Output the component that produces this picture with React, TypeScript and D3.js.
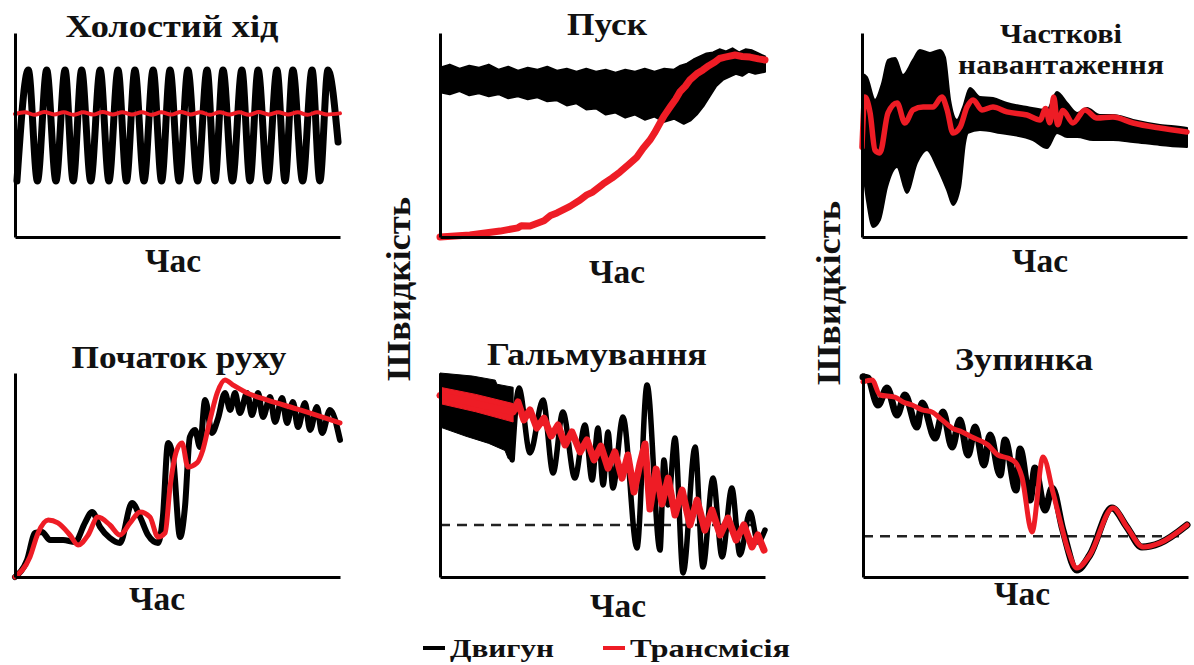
import React, { useEffect, useRef } from "react";
import * as d3 from "d3";

// ---- data: time and speed in relative units (0..100) ----//

const panelTitles = [
  ["Холостий хід"],
  ["Пуск"],
  ["Часткові", "навантаження"],
  ["Початок руху"],
  ["Гальмування"],
  ["Зупинка"],
];
const xLabel = "Час";
const yLabel = "Швидкість";
const legendLabels = ["Двигун", "Трансмісія"];

// Холостий хід
const idleEngine = [
  [0.6, 27.5], [4.1, 81.9], [6.9, 27.5], [9.75, 81.9], [12.6, 27.5], [15.4, 81.9],
  [17.9, 27.5], [20.5, 81.9], [23.3, 27.5], [26.2, 81.9], [28.9, 27.5], [31.7, 81.9],
  [34.3, 27.5], [36.9, 81.9], [39.7, 27.5], [42.5, 81.9], [45.1, 27.5], [47.7, 81.9],
  [50.5, 27.5], [53.2, 81.9], [56.2, 27.5], [59.1, 81.9], [61.5, 27.5], [64, 81.9],
  [66.9, 27.5], [69.8, 81.9], [72.3, 27.5], [74.8, 81.9], [77.7, 27.5], [80.6, 81.9],
  [83.1, 27.5], [85.5, 81.9], [88.5, 27.5], [91.4, 81.9], [93.8, 27.5], [96.3, 81.9],
  [99.4, 46.6],
];
const idleTransmission = [
  [0, 60.3], [3, 61.2], [6, 59.9], [9, 61.3], [12, 60.1], [15, 61.2], [18, 59.9],
  [21, 61.1], [24, 60], [27, 61.3], [30, 60.1], [33, 61.2], [36, 60], [39, 61.2],
  [42, 59.9], [45, 61.1], [48, 60], [51, 61.3], [54, 60.1], [57, 61.2], [60, 59.9],
  [63, 61.2], [66, 60], [69, 61.1], [72, 59.9], [75, 61.3], [78, 60.1], [81, 61.2],
  [84, 60], [87, 61.1], [90, 59.9], [93, 61.2], [96, 60.1], [100, 60.6],
];

// Пуск
const startEngineUpper = [
  [0, 83], [3, 84.5], [6, 82.5], [9, 84], [12, 83], [15, 84.5], [18, 82], [21, 83.5],
  [24, 81.5], [27, 83], [30, 82], [33, 83.5], [36, 81.5], [39, 82.5], [42, 81], [45, 82.5],
  [48, 81], [51, 82], [54, 80.5], [57, 82], [60, 81], [63, 82.5], [66, 81], [69, 82.5],
  [72, 82], [74, 84], [76, 85], [78, 87], [80, 88.5], [82, 90], [84, 90.5], [86, 92],
  [88, 91], [90, 92.5], [92, 90.5], [94, 92], [96, 91.5], [98, 90], [100, 88.5],
];
const startEngineLower = [
  [0, 71], [3, 70], [6, 71.5], [9, 69.5], [12, 70.5], [15, 69], [18, 70], [21, 68],
  [24, 69], [27, 67.5], [30, 68.5], [33, 66.5], [36, 67], [39, 64.5], [42, 65.5], [45, 62.5],
  [48, 63], [51, 60], [54, 61], [57, 58.5], [60, 60], [63, 57.5], [66, 59], [69, 56.5],
  [72, 58], [75, 55.5], [77, 57], [79, 60], [81, 64], [83, 69], [85, 74], [87, 77],
  [89, 78.5], [91, 80], [93, 79], [95, 81], [97, 80], [100, 81],
];
const startTransmission = [
  [0, 0], [9.2, 1], [18.5, 2.9], [24, 4.5], [25, 5.5], [27.7, 5.4], [32, 8], [34, 10.5],
  [36, 11.8], [40, 15], [43.1, 18.1], [45, 20.5], [47, 22], [50.2, 26], [53, 29],
  [55.4, 31.9], [58, 35.5], [60.6, 39.2], [62.5, 43.5], [64.6, 47.5], [66, 51],
  [67.7, 55.9], [69, 59.5], [70.8, 63.7], [72.5, 67.5], [73.8, 71.1], [75.5, 74],
  [76.9, 77], [79, 80], [80.9, 81.9], [82.7, 84], [84.6, 85.8], [86, 87.5], [87.7, 88.2],
  [90.8, 89.2], [93, 88.5], [95.4, 88.2], [98, 87.3], [100, 86.8],
];

// Часткові навантаження
const partialEngineUpper = [
  [0, 80], [1.5, 78.4], [4, 67.2], [6.2, 75.5], [8, 86.8], [10.2, 87.7], [12.6, 79.4],
  [15.7, 86.8], [17.8, 91.7], [20.9, 90.2], [24, 91.7], [25.5, 88.2], [27.1, 67.2],
  [29.2, 57.4], [31.1, 63.7], [33.2, 73], [36.3, 68.6], [40.3, 68.1], [44.6, 65.7],
  [50.8, 63.7], [56.9, 62.3], [60, 71.1], [63.1, 65.7], [66.2, 60.8], [69.2, 63.2],
  [73.2, 59.8], [77.2, 59.8], [83.4, 57.4], [91.7, 54.9], [100, 53.4],
];
const partialEngineLower = [
  [0, 37.7], [1.5, 18.1], [3.4, 4.9], [5.5, 8.3], [7.7, 24.5], [10.8, 34.3], [13.8, 21.6],
  [16.9, 36.3], [20, 42.6], [23.1, 34.3], [26.2, 23], [28, 15.7], [30.2, 24.5], [31.7, 46.1],
  [32.6, 51], [36.3, 52.5], [42.5, 51], [52.6, 47.5], [56.9, 43.6], [60, 51], [63.1, 49],
  [66.2, 49], [71.1, 47.5], [77.2, 47.5], [83.4, 46.6], [91.7, 45.1], [100, 44.1],
];
const partialTransmission = [
  [0, 44.1], [0.9, 68.6], [2.5, 60.8], [4, 42.6], [5.5, 41.2], [8, 60.8], [10.8, 65.7],
  [13.2, 55.9], [15.7, 62.3], [18.8, 63.7], [21.8, 63.7], [24.6, 68.6], [26.2, 62.3],
  [28, 51], [30.2, 53.9], [32.3, 63.7], [34.2, 67.2], [36.9, 62.3], [40.3, 63.7],
  [44.6, 61.3], [50.8, 59.8], [54.8, 57.4], [56.5, 63], [57.8, 56], [59, 68.6], [60.2, 55],
  [61.8, 62], [64.9, 55.9], [68.6, 62.3], [72.3, 58.3], [77.2, 58.8], [83.4, 55.9],
  [91.7, 53.4], [100, 51.5],
];

// Початок руху
const moveEngine = [
  [0, 0], [3.7, 8.3], [6.2, 21.6], [8.3, 22.1], [10.8, 18.1], [14.8, 18.1], [18.5, 17.2],
  [21.5, 26.5], [23.7, 31.9], [26.2, 24.5], [29.2, 19.1], [32.3, 16.7], [36, 36.3],
  [38.5, 29.4], [40.9, 20.6], [44, 16.7], [45.5, 29.4], [47.1, 65.7], [48.6, 58.8],
  [50.8, 19.6], [52.3, 34.3], [53.8, 68.6], [55.4, 72.1], [56.9, 63.7], [58.5, 86.8],
  [60.6, 70.6], [62.5, 77.9], [64.6, 90.2], [66.2, 81.9], [67.7, 90.2], [69.2, 80.4],
  [71.4, 90.2], [72.9, 79.4], [74.8, 90.2], [76.3, 78.4], [78.5, 88.2], [80, 76],
  [82.2, 87.7], [83.7, 75.5], [85.5, 85.8], [87.1, 73.5], [89.2, 85.3], [90.8, 72.1],
  [92.9, 83.3], [94.5, 70.6], [96.9, 81.9], [100, 67.2],
];
const moveTransmission = [
  [0, 0], [4.6, 9.8], [7.1, 21.6], [10.2, 27.9], [13.2, 26.5], [16.9, 20.6], [19.4, 15.7],
  [22.5, 20.6], [25.5, 29.4], [29.2, 25.5], [32.3, 20.6], [35.4, 26.5], [38.5, 31.9],
  [41.5, 29.4], [44, 19.6], [46.2, 21.6], [47.7, 44.1], [49.8, 62.3], [51.4, 65.7],
  [53.2, 53.9], [56, 55.9], [57.8, 62.3], [60, 77], [62.2, 90.2], [64.6, 96.6],
  [67.1, 94.1], [71.4, 90.2], [77.5, 86.8], [87.7, 81.9], [100, 75.5],
];

// Гальмування
const brakeEngineBandUpper = [[0, 100], [10, 98.5], [17, 96.5], [17.5, 94.5], [22.5, 93]];
const brakeEngineBandLower = [[0, 73.5], [8, 69], [15, 65.5], [20, 62], [21, 58], [22.5, 57]];
const brakeEngine = [
  [22.2, 57.4], [24.3, 92.6], [27.7, 60.8], [31.7, 86.8], [34.8, 51], [37.8, 80.9],
  [41.5, 48.5], [44.6, 74.5], [46.8, 47.5], [48.6, 73], [50.2, 45.1], [51.7, 71.1],
  [53.2, 43.6], [56.3, 78.4], [60.6, 14.2], [63.7, 94.1], [67.7, 13.2], [68.9, 57.4],
  [70.2, 35.3], [72.3, 68.1], [74.8, 2], [78.5, 63.7], [80.9, 4.9], [84, 48.5],
  [86.8, 9.8], [89.8, 43.6], [92.3, 10.8], [95.4, 31.9], [97.8, 17.2], [100, 23],
];
const brakeTransBandUpper = [[0, 93], [11, 89.5], [22.5, 85]];
const brakeTransBandLower = [[0, 85], [11, 81], [22.5, 76]];
const brakeTransmission = [
  [0, 89], [11, 85], [22.5, 80.9], [24, 85.8], [25.8, 77], [27.7, 81.9], [29.8, 73],
  [32, 77.9], [34.2, 69.1], [36.3, 74.5], [38.5, 64.7], [40.6, 71.1], [43.1, 61.3],
  [45.2, 67.2], [47.4, 57.4], [49.5, 64.2], [51.7, 53.4], [53.8, 61.3], [56, 48.5],
  [57.8, 59.8], [59.7, 41.7], [61.5, 55.4], [63.1, 65.2], [64.6, 33.3], [66.5, 52.9],
  [68.3, 35.8], [70.2, 48.5], [72.3, 30.4], [74.5, 42.6], [76.9, 25.5], [79.1, 37.7],
  [81.5, 23], [83.7, 32.8], [86.2, 20.6], [88.6, 28.9], [91.1, 18.1], [93.5, 25.5],
  [96, 14.7], [97.8, 20.6], [99.7, 13.2],
];
const brakeThreshold = 25.5;

// Зупинка
const stopEngine = [
  [0, 98], [1.5, 97.5], [4.6, 84.3], [7.4, 92.6], [10.5, 79.4], [12.9, 89.2], [16.6, 73.5],
  [18.2, 85.3], [22.2, 68.1], [24.6, 80.9], [27.4, 63.7], [29.8, 77], [32.3, 59.8],
  [34.5, 73.5], [37.2, 54.9], [39.1, 69.6], [42.2, 50], [43.7, 67.2], [47.1, 42.6],
  [48.3, 62.7], [51.4, 37.7], [52.9, 53.4], [56, 32.8], [58.2, 43.6], [61.5, 23],
  [65.8, 3.4], [69.8, 10.8], [76.6, 33.8], [81.2, 24.5], [85.8, 14.7], [91.4, 16.7],
  [99.7, 25.5],
];
const stopTransmission = [
  [0, 95.6], [2.8, 96.6], [5.2, 89.2], [9.8, 88.2], [12.3, 85.8], [15.1, 84.3],
  [18.2, 81.9], [21.2, 80.9], [24.3, 77], [27.4, 73], [30.5, 71.1], [33.5, 68.6],
  [38.5, 64.7], [41.5, 59.8], [44.6, 58.3], [46.8, 56.4], [48.9, 49], [52, 22.1],
  [55.4, 58.8], [58.5, 41.2], [60.6, 27.9], [63.1, 13.2], [65.8, 4.4], [69.8, 10.8],
  [76.9, 33.8], [81.2, 24.5], [86.2, 14.7], [91.4, 16.7], [99.7, 25.5],
];
const stopThreshold = 20;

// ---- layout ----//

const PLOT_W = 325;
const PLOT_H = 204;
const BLACK = "#000";
const RED = "#ee1c25";
const FONT = "Liberation Serif";

// text widths are measured on the reference (its lettering is a bit wide)
const panels = [
  { left: 15, bottom: 237, titleX: 172, titleY: [37], titleW: [213], labelX: 173, labelY: 272 },
  { left: 440, bottom: 237, titleX: 607, titleY: [35], titleW: [80], labelX: 617, labelY: 283 },
  { left: 862, bottom: 237, titleX: 1061, titleY: [43, 74], titleW: [122, 206], labelX: 1040, labelY: 272 },
  { left: 15, bottom: 577, titleX: 179, titleY: [368], titleW: [215], labelX: 157, labelY: 610 },
  { left: 440, bottom: 577, titleX: 597, titleY: [365], titleW: [220], labelX: 618, labelY: 617 },
  { left: 863, bottom: 577, titleX: 1024, titleY: [370], titleW: [138], labelX: 1022, labelY: 605 },
];
const yLabelPos = [[410, 289], [840, 293]];
const legendPos = [
  { color: BLACK, x: 423, w: 104 },
  { color: RED, x: 603, w: 160 },
];

function Label({ x, y, size, width, anchor = "middle", transform, children }) {
  return (
    <text
      x={x}
      y={y}
      transform={transform}
      textAnchor={anchor}
      fontFamily={FONT}
      fontWeight="bold"
      fontSize={size}
      fill="#111"
      textLength={width}
      lengthAdjust="spacingAndGlyphs"
    >
      {children}
    </text>
  );
}

function App() {
  const ref = useRef(null);

  useEffect(() => {
    document.body.style.margin = "0";
    const root = d3.select(ref.current);
    root.selectAll("*").remove();

    const x = d3.scaleLinear().domain([0, 100]).range([0, PLOT_W]);
    const y = d3.scaleLinear().domain([0, 100]).range([PLOT_H, 0]);

    const lineOf = (curve) =>
      d3.line().x((d) => x(d[0])).y((d) => y(d[1])).curve(curve);
    const bandOf = (upper, lower, curve) => {
      // area between two envelopes: upper forward, lower backward
      const pts = upper.concat(lower.slice().reverse());
      return lineOf(curve)(pts) + "Z";
    };

    const groups = panels.map((p) =>
      root.append("g").attr("transform", `translate(${p.left},${p.bottom - PLOT_H})`)
    );

    const drawAxes = (g) => {
      const yAxis = g
        .append("g")
        .call(d3.axisLeft(y).tickValues([]).tickSizeOuter(0));
      const xAxis = g
        .append("g")
        .attr("transform", `translate(0,${PLOT_H})`)
        .call(d3.axisBottom(x).tickValues([]).tickSizeOuter(0));
      [yAxis, xAxis].forEach((a) =>
        a.select(".domain").attr("stroke", BLACK).attr("stroke-width", 3)
      );
    };

    const drawLine = (g, data, color, width, curve) =>
      g
        .append("path")
        .attr("d", lineOf(curve)(data))
        .attr("fill", "none")
        .attr("stroke", color)
        .attr("stroke-width", width)
        .attr("stroke-linejoin", "round")
        .attr("stroke-linecap", "round");

    const drawBand = (g, upper, lower, color, curve, edge) =>
      g
        .append("path")
        .attr("d", bandOf(upper, lower, curve))
        .attr("fill", color)
        .attr("stroke", color)
        .attr("stroke-width", edge)
        .attr("stroke-linejoin", "round");

    const drawThreshold = (g, v) =>
      g
        .append("line")
        .attr("x1", x(0))
        .attr("x2", x(99))
        .attr("y1", y(v))
        .attr("y2", y(v))
        .attr("stroke", "#222")
        .attr("stroke-width", 2.5)
        .attr("stroke-dasharray", "10 7");

    // ---- Холостий хід ----//
    drawLine(groups[0], idleEngine, BLACK, 7, d3.curveMonotoneX);
    drawLine(groups[0], idleTransmission, RED, 4, d3.curveMonotoneX);
    drawAxes(groups[0]);

    // ---- Пуск ----//
    drawBand(groups[1], startEngineUpper, startEngineLower, BLACK, d3.curveLinear, 2);
    drawLine(groups[1], startTransmission, RED, 7, d3.curveLinear);
    drawAxes(groups[1]);

    // ---- Часткові навантаження ----//
    drawBand(groups[2], partialEngineUpper, partialEngineLower, BLACK, d3.curveMonotoneX, 2);
    drawLine(groups[2], partialTransmission, RED, 5.5, d3.curveMonotoneX);
    drawAxes(groups[2]);

    // ---- Початок руху ----//
    drawLine(groups[3], moveEngine, BLACK, 6, d3.curveMonotoneX);
    drawLine(groups[3], moveTransmission, RED, 5, d3.curveMonotoneX);
    drawAxes(groups[3]);

    // ---- Гальмування ----//
    drawThreshold(groups[4], brakeThreshold);
    drawBand(groups[4], brakeEngineBandUpper, brakeEngineBandLower, BLACK, d3.curveLinear, 1);
    drawLine(groups[4], brakeEngine, BLACK, 5.5, d3.curveMonotoneX);
    drawBand(groups[4], brakeTransBandUpper, brakeTransBandLower, RED, d3.curveLinear, 1);
    drawLine(groups[4], brakeTransmission, RED, 7, d3.curveLinear);
    drawAxes(groups[4]);

    // ---- Зупинка ----//
    drawThreshold(groups[5], stopThreshold);
    drawLine(groups[5], stopEngine, BLACK, 7, d3.curveMonotoneX);
    drawLine(groups[5], stopTransmission, RED, 5, d3.curveMonotoneX);
    drawAxes(groups[5]);

    // ---- legend marks ----//
    legendPos.forEach((l) => {
      root
        .append("line")
        .attr("x1", l.x)
        .attr("x2", l.x + 22)
        .attr("y1", 648)
        .attr("y2", 648)
        .attr("stroke", l.color)
        .attr("stroke-width", 4);
    });
  }, []);

  return (
    <div>
      <svg width={1194} height={665} style={{ display: "block" }}>
        <g ref={ref}></g>
        {panels.map((p, i) => (
          <g key={i}>
            {panelTitles[i].map((t, k) => (
              <Label key={k} x={p.titleX} y={p.titleY[k]} size={i === 2 ? 28 : 32} width={p.titleW[k]}>
                {t}
              </Label>
            ))}
            <Label x={p.labelX} y={p.labelY} size={33} width={56}>
              {xLabel}
            </Label>
          </g>
        ))}
        {yLabelPos.map(([lx, ly], i) => (
          <Label key={i} transform={`translate(${lx},${ly}) rotate(-90)`} size={33} width={184}>
            {yLabel}
          </Label>
        ))}
        {legendPos.map((l, i) => (
          <Label key={i} x={l.x + 27} y={657} size={26} width={l.w} anchor="start">
            {legendLabels[i]}
          </Label>
        ))}
      </svg>
    </div>
  );
}

export default App;
